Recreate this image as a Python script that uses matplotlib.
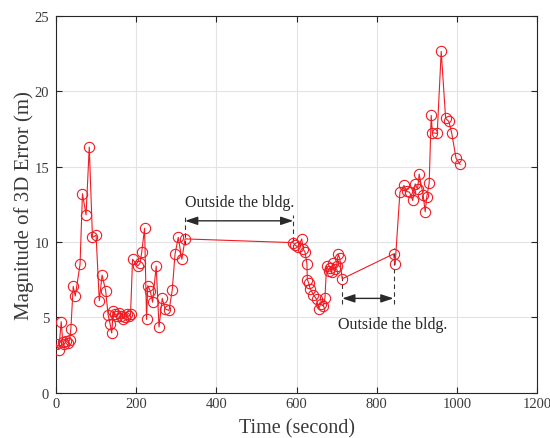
import matplotlib
matplotlib.use("Agg")
import matplotlib.pyplot as plt

# time stamps (s) and 3D position error (m)
time_s = [0, 7, 13, 17, 21, 25, 30, 34, 37, 43, 48, 60, 66, 75, 83, 91, 100, 108,
          115, 124, 130, 135, 139, 143, 148, 153, 157, 162, 167, 172, 177, 182,
          186, 191, 204, 210, 214, 221, 226, 229, 235, 241, 250, 257, 265, 272,
          282, 290, 297, 305, 314, 322,
          592, 596, 604, 613, 617, 621, 626, 627, 630, 634, 642, 650, 655, 661,
          667, 671, 675, 680, 684, 688, 691, 695, 700, 704, 708, 714,
          842, 846, 858, 868, 875, 882, 890, 896, 902, 906, 916, 921, 925, 931,
          936, 939, 951, 961, 972, 980, 987, 998, 1008]
err_m = [3.2, 2.85, 4.7, 3.35, 3.2, 3.45, 3.3, 3.5, 4.2, 7.05, 6.4, 8.5, 13.2,
         11.8, 16.3, 10.3, 10.45, 6.1, 7.8, 6.75, 5.15, 4.55, 3.95, 5.4, 5.2,
         5.05, 5.3, 5.1, 4.9, 5.0, 5.2, 5.05, 5.2, 8.85, 8.4, 8.6, 9.35, 10.9,
         4.85, 7.1, 6.75, 6.0, 8.4, 4.35, 6.25, 5.55, 5.45, 6.8, 9.2, 10.3,
         8.85, 10.2,
         9.95, 9.8, 9.65, 10.2, 9.5, 9.35, 8.55, 7.5, 7.3, 6.9, 6.5, 6.2, 5.55,
         5.9, 5.75, 6.3, 8.4, 8.1, 8.3, 8.0, 8.6, 8.2, 8.4, 9.2, 8.9, 7.55,
         9.2, 8.5, 13.3, 13.75, 13.35, 13.3, 12.75, 13.85, 13.5, 14.5, 13.1,
         12.0, 13.0, 13.9, 18.4, 17.25, 17.2, 22.65, 18.2, 18.0, 17.25, 15.55,
         15.15]

# outdoor intervals: (start, end, arrow height, label x, label y)
outside = [(322, 592, 11.4, 457, 12.65),
           (714, 842, 6.25, 841, 4.55)]

plt.rcParams['font.family'] = ['Liberation Serif', 'DejaVu Serif']
axis_col = '#262626'
label_col = '#3a3a3a'

fig = plt.figure(figsize=(5.5, 4.39), dpi=100)
ax = fig.add_axes([0.1018, 0.1036, 0.8746, 0.8577])

ax.plot(time_s, err_m, color='#f01c24', lw=0.8, marker='o', ms=7.4,
        mfc='none', mec='#f01c24', mew=0.8, zorder=3)

for t0, t1, ya, tx, ty in outside:
    y0 = err_m[time_s.index(t0)]
    y1 = err_m[time_s.index(t1)]
    # dashed guides from the points to the arrow
    for t, yp in ((t0, y0), (t1, y1)):
        lo, hi = sorted((yp, ya))
        ax.plot([t, t], [lo - 0.4, hi + 0.4], color='#333333', lw=0.8,
                ls=(0, (4, 3)), zorder=2)
    ax.annotate('', xy=(t1, ya), xytext=(t0, ya),
                arrowprops=dict(arrowstyle='<|-|>,head_length=0.75,head_width=0.25',
                                color='#2a2a2a', lw=1.0, shrinkA=0, shrinkB=0))
    ax.text(tx, ty, 'Outside the bldg.', ha='center', va='center',
            fontsize=11.5, color='#262626')

ax.set_xlim(0, 1200)
ax.set_ylim(0, 25)
ax.set_xticks(range(0, 1201, 200))
ax.set_yticks(range(0, 26, 5))
ax.grid(True, color='#e3e3e3', lw=0.8)
ax.set_axisbelow(True)
for s in ax.spines.values():
    s.set_color(axis_col)
    s.set_linewidth(0.8)
ax.tick_params(direction='in', length=4, width=0.8, colors=axis_col,
               labelcolor=label_col, labelsize=10.5, top=True, right=True,
               labeltop=False, labelright=False)
ax.tick_params(axis='y', pad=5)
ax.set_xlabel('Time (second)', fontsize=14.5, color=label_col, labelpad=5.5)
ax.set_ylabel('Magnitude of 3D Error (m)', fontsize=15, color=label_col,
              labelpad=0)

fig.savefig('out.png', dpi=100)
